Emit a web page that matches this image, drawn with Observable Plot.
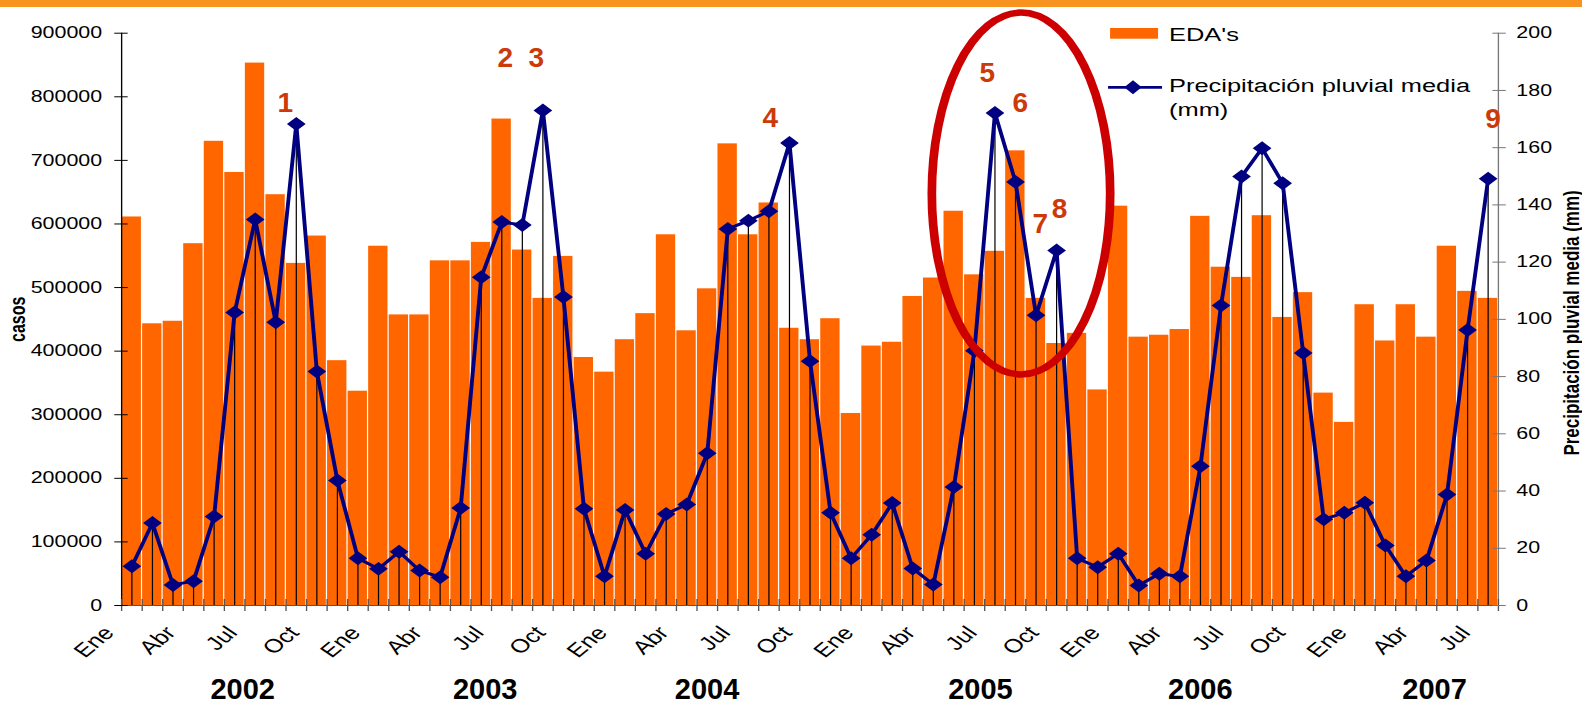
<!DOCTYPE html>
<html>
<head>
<meta charset="utf-8">
<script src="https://cdn.jsdelivr.net/npm/d3@7"></script>
<script src="https://cdn.jsdelivr.net/npm/@observablehq/plot@0.6"></script>
<style>
  html, body { margin: 0; padding: 0; background: #fff; width: 1582px; height: 706px; overflow: hidden; }
  #band { height: 7px; width: 1582px; background: #f7931e; }
  #chart { position: relative; width: 1582px; height: 699px; }
  #chart svg { display: block; }
  #chart svg.overlay { position: absolute; left: 0; top: 0; pointer-events: none; background: transparent; }
</style>
</head>
<body>
<div id="band"></div>
<div id="chart"></div>
<script>
// ---------------- DATA ----------------
const monthNames = ["Ene", "Feb", "Mar", "Abr", "May", "Jun", "Jul", "Ago", "Sep", "Oct", "Nov", "Dic"];
const years = ["2002", "2003", "2004", "2005", "2006", "2007"];

// EDA's (casos), monthly, Ene 2002 – Jul 2007
const edaCases = [
  611000, 443000, 447000, 569000, 730000, 681000, 853000, 646000, 538000, 581000, 385000, 337000,
  565000, 457000, 457000, 542000, 542000, 571000, 765000, 559000, 483000, 549000, 390000, 367000,
  418000, 459000, 583000, 432000, 498000, 726000, 583000, 633000, 436000, 418000, 451000, 302000,
  408000, 414000, 486000, 515000, 620000, 520000, 557000, 715000, 483000, 412000, 428000, 339000,
  628000, 422000, 425000, 434000, 612000, 532000, 516000, 613000, 453000, 492000, 334000, 288000,
  473000, 416000, 473000, 422000, 565000, 494000, 483000
];

// Precipitación pluvial media (mm), same months
const precipitation = [
  13.7, 28.8, 7.2, 8.5, 31.1, 102.4, 134.9, 99.0, 168.3, 81.8, 43.7, 16.5,
  12.8, 18.8, 12.2, 9.9, 34.1, 114.7, 134.0, 133.0, 173.0, 107.8, 33.8, 10.2,
  33.4, 18.1, 32.0, 35.3, 53.2, 131.6, 134.5, 137.8, 161.6, 85.4, 32.4, 16.5,
  24.7, 35.8, 12.9, 7.3, 41.4, 89.0, 172.1, 148.0, 101.4, 124.1, 16.5, 13.4,
  18.1, 7.0, 11.1, 10.2, 48.7, 104.8, 149.9, 159.8, 147.6, 88.2, 30.1, 32.4,
  35.9, 21.0, 10.2, 15.7, 38.8, 96.3, 149.1
];

const leftTicks = [0, 100000, 200000, 300000, 400000, 500000, 600000, 700000, 800000, 900000];
const rightTicks = [0, 20, 40, 60, 80, 100, 120, 140, 160, 180, 200];

const annotationLabels = ["1", "2", "3", "4", "5", "6", "7", "8", "9"];
const annotationMonths = [8, 18, 20, 32, 42, 43, 44, 45, 66];

const seriesNames = ["EDA's", "Precipitación pluvial media", "(mm)"];
const leftTitle = "casos";
const rightTitle = "Precipitación pluvial media (mm)";

// ---------------- LAYOUT / STYLE ----------------
const FULL_W = 1582, W = 1181, H = 699, S = FULL_W / W;
const K = 900000 / 200; // right-axis mm -> left-axis units
const nMonths = edaCases.length;
const marginLeft = 90.3, marginRight = 62.9, marginTop = 25.7, marginBottom = 101;
const FONT = "'Liberation Sans', Arial, Helvetica, sans-serif";
const ORANGE = "#ff6600", NAVY = "#000080", ANNOT = "#cc3a0a";

const table = edaCases.map((v, i) => ({i, eda: v, precip: precipitation[i]}));
const boundaries = d3.range(nMonths + 1).map(i => i - 0.5);
const labelMonths = d3.range(0, nMonths, 3);
const yearLabelMonth = [5.4, 17.2, 28.0, 41.3, 52.0, 63.4];
// offsets of the numbered labels from their month's rainfall point (screen px)
const annotOffsets = [[-10.8, -20.4], [3.7, -163.6], [-6.4, -52], [-19, -25], [-7.5, -40], [5, -79], [4.5, -91], [3, -41], [5, -60]];

const xDomain = [-0.5, nMonths - 0.5], yDomain = [0, 900000];

// ---------- main (horizontally stretched) drawing ----------
const plot = Plot.plot({
  width: W, height: H,
  marginLeft, marginRight, marginTop, marginBottom,
  x: {type: "linear", domain: xDomain},
  y: {type: "linear", domain: yDomain},
  style: {fontFamily: FONT, background: "white", color: "black", overflow: "visible"},
  marks: [
    Plot.rect(table, {x1: d => d.i - 0.5, x2: d => d.i + 0.5, y1: 0, y2: "eda", fill: ORANGE, insetLeft: 0.45, insetRight: 0.45}),
    Plot.ruleX(table, {x: "i", y1: 0, y2: d => d.precip * K, stroke: "black", strokeWidth: 0.9}),
    Plot.ruleY([0], {stroke: "#555"}),
    Plot.ruleX([xDomain[0]], {stroke: "black"}),
    Plot.ruleX([xDomain[1]], {stroke: "#777"}),
    Plot.axisX(boundaries, {tickSize: 12, dy: -6, tickFormat: () => "", stroke: "#555", label: null}),
    Plot.text(labelMonths, {x: d => d, text: d => monthNames[d % 12], frameAnchor: "bottom", rotate: -48,
      textAnchor: "end", lineAnchor: "middle", dx: -17, dy: 24, fontSize: 19, fill: "black"}),
    Plot.axisY(leftTicks, {anchor: "left", tickSize: 10, dx: 5, tickPadding: 9.5, tickFormat: d3.format("d"),
      fontSize: 16, stroke: "black", label: null}),
    Plot.axisY(rightTicks.map(v => v * K), {anchor: "right", tickSize: 10, dx: -5, tickPadding: 8.4,
      tickFormat: d => String(Math.round(d / K)), fontSize: 16, stroke: "#777", label: null}),
    Plot.text([leftTitle], {frameAnchor: "left", text: d => d, rotate: -90, dx: -77.6, textAnchor: "middle",
      fontSize: 16, fontWeight: "bold", fill: "black"}),
    Plot.text([rightTitle], {frameAnchor: "right", text: d => d, rotate: -90, dx: 54.7, dy: 3.6, textAnchor: "middle",
      fontSize: 17, fontWeight: "bold", fill: "black"}),
    Plot.line(table, {x: "i", y: d => d.precip * K, stroke: NAVY, strokeWidth: 2.9}),
    Plot.dot(table, {x: "i", y: d => d.precip * K, symbol: "diamond2", r: 6.3, fill: NAVY, stroke: null})
  ]
});

// the original figure is stretched horizontally: draw at W and stretch to FULL_W
plot.setAttribute("width", FULL_W);
plot.setAttribute("height", H);
plot.setAttribute("viewBox", `0 0 ${W} ${H}`);
plot.setAttribute("preserveAspectRatio", "none");
plot.style.width = FULL_W + "px";
plot.style.height = H + "px";
plot.style.maxWidth = "none";

const xs = plot.scale("x"), ys = plot.scale("y");
const lin = sc => v => sc.range[0] + (v - sc.domain[0]) / (sc.domain[1] - sc.domain[0]) * (sc.range[1] - sc.range[0]);
const px = xs.apply ? v => xs.apply(v) : lin(xs);
const py = ys.apply ? v => ys.apply(v) : lin(ys);

const svg = d3.select(plot);

// legend (inside the plot area, top right)
const lg = svg.append("g").attr("font-family", FONT).attr("font-size", 19).attr("fill", "black").attr("text-anchor", "start");
lg.append("rect").attr("x", 828.7).attr("y", 21).attr("width", 35.8).attr("height", 10.7).attr("fill", ORANGE);
lg.append("text").attr("x", 872.7).attr("y", 33.7).attr("text-anchor", "start").text(seriesNames[0]);
lg.append("line").attr("x1", 827.2).attr("x2", 867.5).attr("y1", 80.3).attr("y2", 80.3)
  .attr("stroke", NAVY).attr("stroke-width", 2.8);
lg.append("path").attr("d", "M845.8,73.3L852.3,80.3L845.8,87.3L839.3,80.3Z").attr("fill", NAVY);
lg.append("text").attr("x", 872.7).attr("y", 85).attr("text-anchor", "start").text(seriesNames[1]);
lg.append("text").attr("x", 872.7).attr("y", 109.3).attr("text-anchor", "start").text(seriesNames[2]);

// red ellipse highlighting 2005
const ecx = px(43.3), ecy = py(647100);
svg.append("ellipse")
  .attr("cx", ecx).attr("cy", ecy)
  .attr("rx", px(43.3 + 4.34) - ecx).attr("ry", py(647100 - 284500) - ecy)
  .attr("fill", "none").attr("stroke", "#cc0000").attr("stroke-width", 6.5);

// ---------- overlay (not stretched): year labels and numbered annotations ----------
const overlay = Plot.plot({
  width: FULL_W, height: H,
  marginLeft: marginLeft * S, marginRight: marginRight * S, marginTop, marginBottom,
  x: {type: "linear", domain: xDomain, axis: null},
  y: {type: "linear", domain: yDomain, axis: null},
  style: {fontFamily: FONT, background: "transparent", color: "black", overflow: "visible"},
  marks: [
    Plot.text(years, {x: (d, j) => yearLabelMonth[j], text: d => d, frameAnchor: "bottom", dy: 84.7,
      fontSize: 29, fontWeight: "bold", fill: "black", lineAnchor: "middle"}),
    ...annotationLabels.map((lab, j) => Plot.text([annotationMonths[j]], {
      x: d => d, y: d => precipitation[d] * K, text: () => lab,
      dx: annotOffsets[j][0], dy: annotOffsets[j][1], fontSize: 28, fontWeight: "bold",
      fill: ANNOT, lineAnchor: "middle", textAnchor: "middle"
    }))
  ]
});
overlay.classList.add("overlay");
overlay.style.maxWidth = "none";

const chart = document.getElementById("chart");
chart.appendChild(plot);
chart.appendChild(overlay);
</script>
</body>
</html>
